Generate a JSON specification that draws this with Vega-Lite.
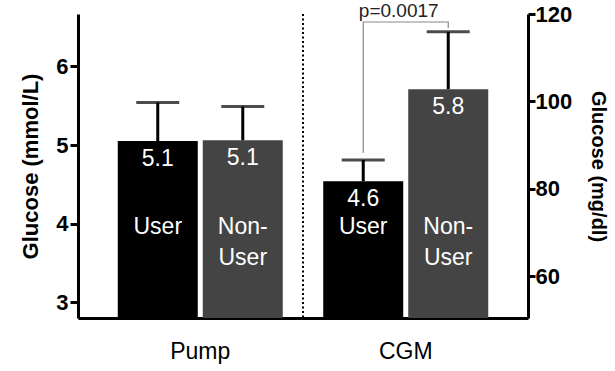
{
  "$schema": "https://vega.github.io/schema/vega-lite/v6.json",
  "width": 450,
  "height": 304,
  "autosize": "none",
  "padding": {"left": 78, "top": 14, "right": 87, "bottom": 53},
  "background": "white",
  "config": {"view": {"stroke": null}, "font": "Liberation Sans"},
  "datasets": {
    "bars": [
      {"group": "Pump", "user": "User", "mean": 5.05, "upper": 5.54, "label": "5.1", "name": "User"},
      {"group": "Pump", "user": "Non-User", "mean": 5.06, "upper": 5.49, "label": "5.1", "name": "Non-\nUser"},
      {"group": "CGM", "user": "User", "mean": 4.54, "upper": 4.81, "label": "4.6", "name": "User"},
      {"group": "CGM", "user": "Non-User", "mean": 5.71, "upper": 6.44, "label": "5.8", "name": "Non-\nUser"}
    ],
    "bracket": [
      {"group": "CGM", "user": "User", "y": 4.9, "i": 1},
      {"group": "CGM", "user": "User", "y": 6.565, "i": 2},
      {"group": "CGM", "user": "Non-User", "y": 6.565, "i": 3},
      {"group": "CGM", "user": "Non-User", "y": 6.49, "i": 4}
    ],
    "pval": [{"group": "CGM", "text": "p=0.0017"}]
  },
  "encoding": {
    "x": {
      "field": "group",
      "type": "nominal",
      "sort": ["Pump", "CGM"],
      "scale": {"paddingInner": 0, "paddingOuter": 0.095},
      "axis": {
        "orient": "bottom",
        "title": null,
        "ticks": false,
        "labelPadding": 22,
        "labelFontSize": 23,
        "labelFontWeight": "normal",
        "labelAngle": 0,
        "labelColor": "black",
        "domainWidth": 3,
        "domainColor": "black"
      }
    }
  },
  "layer": [
    {
      "data": {"name": "bars"},
      "mark": {"type": "bar"},
      "encoding": {
        "xOffset": {"field": "user", "type": "nominal", "sort": ["User", "Non-User"], "scale": {"paddingInner": 0.0588, "paddingOuter": 0.238}},
        "y": {
          "field": "mean",
          "type": "quantitative",
          "scale": {"domain": [2.8, 6.6667], "nice": false, "zero": false},
          "axis": {
            "orient": "left",
            "values": [3, 4, 5, 6],
            "title": "Glucose (mmol/L)",
            "titleFontSize": 22,
            "titleFontWeight": "bold",
            "titleColor": "black",
            "titlePadding": 13,
            "labelFontSize": 22,
            "labelFontWeight": "bold",
            "labelColor": "black",
            "labelPadding": 2,
            "domainWidth": 3,
            "domainColor": "black",
            "tickWidth": 3,
            "tickSize": 8,
            "tickColor": "black",
            "grid": false
          }
        },
        "y2": {"datum": 2.8},
        "color": {"field": "user", "type": "nominal", "scale": {"domain": ["User", "Non-User"], "range": ["#000000", "#444444"]}, "legend": null}
      }
    },
    {
      "data": {"name": "bars"},
      "mark": {"type": "rule", "strokeWidth": 3, "color": "black"},
      "encoding": {
        "xOffset": {"field": "user", "type": "nominal", "sort": ["User", "Non-User"]},
        "y": {
          "field": "mean",
          "type": "quantitative",
          "axis": {
            "orient": "right",
            "values": [3.3333, 4.4444, 5.5556, 6.6667],
            "labelExpr": "format(datum.value*18, '.0f')",
            "title": "Glucose (mg/dl)",
            "titleFontSize": 20,
            "titleFontWeight": "bold",
            "titleColor": "black",
            "titlePadding": 16,
            "labelFontSize": 22,
            "labelFontWeight": "bold",
            "labelColor": "black",
            "labelPadding": 0,
            "domainWidth": 3,
            "domainColor": "black",
            "tickWidth": 3,
            "tickSize": 7,
            "tickColor": "black",
            "grid": false
          }
        },
        "y2": {"field": "upper"}
      }
    },
    {
      "data": {"name": "bars"},
      "mark": {"type": "tick", "thickness": 3, "size": 43, "color": "black"},
      "encoding": {
        "xOffset": {"field": "user", "type": "nominal", "sort": ["User", "Non-User"]},
        "y": {"field": "upper", "type": "quantitative", "axis": null}
      }
    },
    {
      "data": {"name": "bars"},
      "mark": {"type": "text", "color": "white", "fontSize": 23, "baseline": "alphabetic", "dy": 25},
      "encoding": {
        "xOffset": {"field": "user", "type": "nominal", "sort": ["User", "Non-User"]},
        "y": {"field": "mean", "type": "quantitative", "axis": null},
        "text": {"field": "label"}
      }
    },
    {
      "data": {"name": "bars"},
      "mark": {"type": "text", "color": "white", "fontSize": 23, "baseline": "alphabetic", "lineBreak": "\n", "lineHeight": 31},
      "encoding": {
        "xOffset": {"field": "user", "type": "nominal", "sort": ["User", "Non-User"]},
        "y": {"datum": 3.87, "type": "quantitative", "axis": null},
        "text": {"field": "name"}
      }
    },
    {
      "data": {"name": "bracket"},
      "mark": {"type": "line", "color": "#8a8a8a", "strokeWidth": 1.2},
      "encoding": {
        "xOffset": {"field": "user", "type": "nominal", "sort": ["User", "Non-User"]},
        "y": {"field": "y", "type": "quantitative", "axis": null},
        "order": {"field": "i", "type": "quantitative"}
      }
    },
    {
      "data": {"name": "pval"},
      "mark": {"type": "text", "color": "#222222", "fontSize": 19, "baseline": "alphabetic", "dx": -7, "dy": 3},
      "encoding": {
        "y": {"datum": 6.6667, "type": "quantitative", "axis": null},
        "text": {"field": "text"}
      }
    },
    {
      "data": {"values": [{"g": "CGM"}]},
      "mark": {"type": "rule", "color": "black", "strokeWidth": 2, "strokeDash": [2, 2.5]},
      "encoding": {
        "x": {"datum": "CGM", "bandPosition": 0}
      }
    }
  ],
  "resolve": {"axis": {"y": "independent"}}
}
